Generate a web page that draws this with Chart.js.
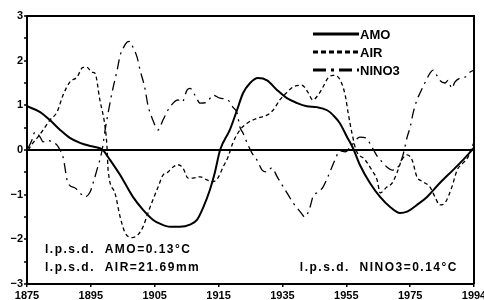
<!DOCTYPE html>
<html>
<head>
<meta charset="utf-8">
<script src="https://cdn.jsdelivr.net/npm/chart.js@4.4.0/dist/chart.umd.min.js"></script>
<style>
  html, body { margin: 0; padding: 0; background: #fff; }
</style>
</head>
<body>
<canvas id="grafico" width="484" height="300"></canvas>
<script>
// datos
const amoYears = [1875.0, 1878.5, 1881.1, 1883.8, 1886.4, 1889.1, 1891.8, 1894.4, 1895.2, 1897.1, 1899.8, 1903.2, 1905.9, 1908.5, 1910.4, 1913.1, 1915.7, 1918.4, 1920.3, 1921.9, 1923.7, 1925.0, 1926.4, 1929.0, 1930.9, 1932.5, 1934.4, 1936.5, 1938.9, 1941.6, 1944.2, 1946.9, 1949.5, 1952.2, 1954.9, 1956.5, 1958.3, 1960.2, 1961.8, 1963.6, 1966.3, 1969.0, 1971.6, 1974.3, 1976.2, 1978.8, 1981.5, 1984.9, 1988.4, 1991.1, 1994.0];
const amoValues = [0.98, 0.85, 0.67, 0.45, 0.27, 0.16, 0.09, 0.04, 0.0, -0.22, -0.56, -1.05, -1.34, -1.56, -1.65, -1.72, -1.72, -1.67, -1.56, -1.29, -0.89, -0.51, 0.0, 0.45, 0.89, 1.27, 1.50, 1.61, 1.56, 1.34, 1.16, 1.05, 0.98, 0.96, 0.89, 0.78, 0.60, 0.29, 0.04, -0.33, -0.74, -1.05, -1.27, -1.41, -1.38, -1.23, -1.05, -0.74, -0.45, -0.22, 0.05];

const airYears = [1875.3, 1876.6, 1877.9, 1879.3, 1881.1, 1883.0, 1884.6, 1886.4, 1888.3, 1889.9, 1891.0, 1892.3, 1893.1, 1894.4, 1895.8, 1896.3, 1896.6, 1898.4, 1899.8, 1901.1, 1903.0, 1904.5, 1905.9, 1907.2, 1908.5, 1909.9, 1911.2, 1912.3, 1913.9, 1915.2, 1916.5, 1917.9, 1919.2, 1921.1, 1922.9, 1924.5, 1925.8, 1927.2, 1928.5, 1929.8, 1931.7, 1933.6, 1936.2, 1938.9, 1940.5, 1942.3, 1944.2, 1945.8, 1948.2, 1949.8, 1951.1, 1952.5, 1953.8, 1955.1, 1956.5, 1958.3, 1959.7, 1960.5, 1961.5, 1962.6, 1965.0, 1966.8, 1968.2, 1969.0, 1970.8, 1972.2, 1973.5, 1974.8, 1976.2, 1977.5, 1978.8, 1980.4, 1982.3, 1983.6, 1984.9, 1986.3, 1988.1, 1989.5, 1991.1, 1992.4, 1994.0];
const airValues = [0.0, 0.16, 0.29, 0.45, 0.67, 0.85, 1.23, 1.52, 1.63, 1.85, 1.85, 1.74, 1.72, 1.12, 0.51, 0.07, -0.45, -0.96, -1.50, -1.85, -1.96, -1.90, -1.72, -1.41, -1.12, -0.83, -0.56, -0.51, -0.38, -0.33, -0.40, -0.63, -0.63, -0.60, -0.67, -0.71, -0.63, -0.38, -0.16, 0.16, 0.45, 0.60, 0.71, 0.78, 0.89, 1.12, 1.29, 1.41, 1.45, 1.29, 1.12, 1.23, 1.41, 1.61, 1.67, 1.58, 1.23, 0.83, 0.38, 0.0, -0.22, -0.45, -0.67, -0.96, -0.83, -0.74, -0.51, -0.22, -0.11, -0.22, -0.60, -0.71, -0.83, -1.05, -1.23, -1.18, -0.83, -0.45, -0.29, -0.16, 0.18];

const ninoYears = [1875.3, 1876.3, 1877.1, 1878.5, 1879.3, 1880.3, 1881.7, 1883.0, 1883.8, 1884.6, 1885.9, 1887.8, 1889.1, 1890.4, 1891.8, 1892.6, 1893.6, 1895.0, 1895.8, 1896.6, 1897.6, 1899.0, 1899.8, 1900.6, 1901.6, 1902.4, 1903.2, 1904.3, 1905.1, 1906.4, 1907.2, 1908.5, 1909.9, 1911.2, 1912.5, 1913.9, 1915.2, 1916.3, 1917.6, 1918.4, 1919.7, 1921.1, 1922.9, 1924.5, 1926.4, 1928.5, 1929.8, 1930.9, 1931.7, 1932.5, 1933.6, 1934.9, 1936.2, 1937.6, 1938.9, 1940.2, 1941.6, 1942.9, 1944.5, 1945.8, 1947.7, 1949.0, 1950.3, 1951.1, 1952.5, 1953.8, 1955.1, 1957.0, 1958.3, 1959.7, 1961.5, 1963.6, 1965.2, 1966.8, 1968.4, 1969.8, 1970.8, 1972.2, 1973.8, 1975.1, 1976.2, 1977.0, 1977.8, 1978.8, 1979.6, 1980.9, 1982.3, 1983.1, 1984.1, 1984.9, 1986.3, 1987.1, 1988.1, 1988.9, 1990.3, 1991.6, 1992.9, 1994.0];
const ninoValues = [0.04, 0.22, 0.40, 0.29, 0.18, 0.22, 0.18, 0.11, 0.0, -0.16, -0.74, -0.85, -0.96, -1.05, -0.94, -0.74, -0.45, 0.0, 0.45, 0.83, 1.27, 1.79, 2.12, 2.28, 2.41, 2.43, 2.30, 2.08, 1.79, 1.38, 1.00, 0.67, 0.45, 0.67, 0.89, 1.05, 1.12, 1.07, 1.34, 1.38, 1.23, 1.05, 1.07, 1.23, 1.16, 1.12, 0.96, 0.83, 0.51, 0.38, 0.16, -0.07, -0.22, -0.45, -0.49, -0.40, -0.60, -0.78, -1.00, -1.18, -1.38, -1.50, -1.29, -1.05, -0.94, -0.83, -0.60, -0.22, -0.02, -0.04, 0.11, 0.29, 0.27, 0.07, -0.16, -0.29, -0.38, -0.45, -0.38, -0.11, 0.29, 0.51, 0.83, 1.12, 1.27, 1.50, 1.72, 1.79, 1.67, 1.56, 1.50, 1.56, 1.38, 1.52, 1.61, 1.63, 1.74, 1.79];

// eje x: marcas equiespaciadas con etiquetas del original
const xTickYears = [1875, 1892, 1909, 1926, 1943, 1960, 1977, 1994];
const xTickLabels = ["1875", "1895", "1905", "1915", "1935", "1955", "1975", "1994"];

const seriesNames = ["AMO", "AIR", "NINO3"];
const notas = ["l.p.s.d.  AMO=0.13°C", "l.p.s.d.  AIR=21.69mm", "l.p.s.d.  NINO3=0.14°C"];

const FUENTE = '"Liberation Sans", Arial, sans-serif';
const dashes = [[], [4, 3], [10, 5, 2, 5]];
const legendDashes = [[], [5, 3], [13, 5, 3, 5]];

const unir = (xs, ys) => xs.map((x, i) => ({ x: x, y: ys[i] }));

// dibuja marco, leyenda y textos
const extras = {
  id: "extras",
  afterDraw(chart) {
    const ctx = chart.ctx;
    const a = chart.chartArea;
    ctx.save();
    ctx.strokeStyle = "#000";
    ctx.lineWidth = 2;
    ctx.beginPath();
    ctx.moveTo(a.left, a.top);
    ctx.lineTo(a.right, a.top);
    ctx.lineTo(a.right, a.bottom);
    ctx.stroke();

    // leyenda
    ctx.font = "bold 13px " + FUENTE;
    ctx.fillStyle = "#000";
    ctx.textBaseline = "middle";
    seriesNames.forEach((nombre, i) => {
      const y = 34 + i * 18;
      ctx.lineWidth = 3;
      ctx.setLineDash(legendDashes[i]);
      ctx.beginPath();
      ctx.moveTo(313, y);
      ctx.lineTo(359, y);
      ctx.stroke();
      ctx.setLineDash([]);
      ctx.fillText(nombre, 360, y + 1);
    });

    // textos de desviacion
    ctx.font = "bold 12px " + FUENTE;
    ctx.textBaseline = "alphabetic";
    ctx.letterSpacing = "1.5px";
    ctx.textAlign = "left";
    ctx.fillText(notas[0], 45, 253);
    ctx.fillText(notas[1], 45, 271);
    ctx.textAlign = "right";
    ctx.fillText(notas[2], 458, 271);
    ctx.restore();
  }
};

new Chart(document.getElementById("grafico"), {
  type: "line",
  data: {
    datasets: [
      { label: seriesNames[0], data: unir(amoYears, amoValues), borderColor: "#000", borderWidth: 2, borderDash: dashes[0], cubicInterpolationMode: "monotone" },
      { label: seriesNames[1], data: unir(airYears, airValues), borderColor: "#000", borderWidth: 1.3, borderDash: dashes[1], cubicInterpolationMode: "monotone" },
      { label: seriesNames[2], data: unir(ninoYears, ninoValues), borderColor: "#000", borderWidth: 1.3, borderDash: dashes[2], cubicInterpolationMode: "monotone" }
    ]
  },
  options: {
    responsive: false,
    animation: false,
    devicePixelRatio: 1,
    layout: { padding: { top: 16, right: 10, left: 0, bottom: 0 } },
    elements: { point: { radius: 0 } },
    plugins: { legend: { display: false }, tooltip: { enabled: false } },
    scales: {
      x: {
        type: "linear",
        min: 1875,
        max: 1994,
        afterBuildTicks: (s) => { s.ticks = xTickYears.map((v) => ({ value: v })); },
        afterFit: (s) => { s.height = 16; s.paddingLeft = 0; s.paddingRight = 0; },
        border: { display: true, color: "#000", width: 2 },
        grid: { drawOnChartArea: false, color: "#000", tickColor: "#000", tickLength: 3, lineWidth: 1.5 },
        ticks: {
          autoSkip: false,
          maxRotation: 0,
          padding: 2,
          color: "#000",
          font: { family: FUENTE, size: 11, weight: "bold" },
          callback: (v, i) => xTickLabels[i]
        }
      },
      y: {
        min: -3,
        max: 3,
        afterFit: (s) => { s.width = 27; s.paddingTop = 0; s.paddingBottom = 0; },
        border: { display: true, color: "#000", width: 2 },
        grid: {
          color: (c) => (c.tick && c.tick.value === 0 ? "#000" : "rgba(0,0,0,0)"),
          lineWidth: 2,
          tickColor: "#000",
          tickWidth: 1.5,
          tickLength: 3
        },
        ticks: {
          stepSize: 0.5,
          autoSkip: false,
          padding: 1,
          color: "#000",
          font: { family: FUENTE, size: 11, weight: "bold" },
          callback: (v) => (Number.isInteger(v) ? String(v).replace("-", "\u2212") : "")
        }
      }
    }
  },
  plugins: [extras]
});
</script>
</body>
</html>
